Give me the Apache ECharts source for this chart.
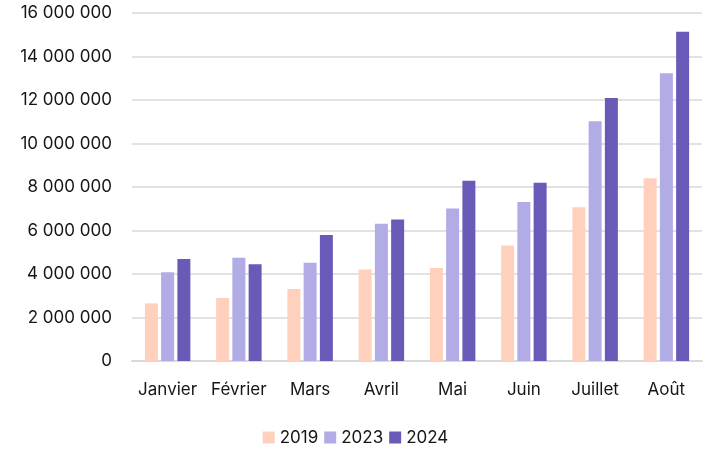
<!DOCTYPE html>
<html>
<head>
<meta charset="utf-8">
<script src="https://cdn.jsdelivr.net/npm/echarts@6/dist/echarts.min.js"></script>
<style>
  html, body { margin: 0; padding: 0; background: #fff; }
  #chart { width: 711px; height: 453px; }
</style>
</head>
<body>
<div id="chart"></div>
<script>
// mois
var months = ['Janvier', 'Février', 'Mars', 'Avril', 'Mai', 'Juin', 'Juillet', 'Août']
var years = ['2019', '2023', '2024']
// valeurs
var values2019 = [2650000, 2900000, 3310000, 4210000, 4280000, 5310000, 7070000, 8400000]
var values2023 = [4080000, 4750000, 4520000, 6310000, 7010000, 7310000, 11020000, 13230000]
var values2024 = [4690000, 4450000, 5790000, 6510000, 8290000, 8200000, 12090000, 15140000]
var colors = ['#FFD1BC', '#B1ABE6', '#6A5AB8']

function fmt (v) {
  return String(v).replace(/\B(?=(\d{3})+(?!\d))/g, ' ')
}

var font = 'Inter, "Noto Sans", sans-serif'
var chart = echarts.init(document.getElementById('chart'))
var option = {
  animation: false,
  color: colors,
  textStyle: { fontFamily: font },
  grid: { left: 132, right: 9, top: 13, bottom: 92 },
  legend: {
    data: years,
    bottom: 2,
    left: 'center',
    icon: 'rect',
    itemWidth: 12,
    itemHeight: 12,
    itemGap: 6,
    textStyle: { fontSize: 17, color: '#161616', fontFamily: font }
  },
  xAxis: {
    type: 'category',
    data: months,
    axisLine: { lineStyle: { color: '#d9d9d9', width: 2 } },
    axisTick: { show: false },
    axisLabel: { interval: 0, fontSize: 17, color: '#161616', margin: 20, fontFamily: font }
  },
  yAxis: {
    type: 'value',
    min: 0,
    max: 16000000,
    interval: 2000000,
    axisLine: { show: false },
    axisTick: { show: false },
    splitLine: { lineStyle: { color: '#d9d9d9', width: 1.5 } },
    axisLabel: { fontSize: 17, color: '#161616', margin: 20, formatter: fmt, fontFamily: font }
  },
  series: [
    { name: years[0], type: 'bar', data: values2019, barWidth: 13, barGap: '25%' },
    { name: years[1], type: 'bar', data: values2023, barWidth: 13, barGap: '25%' },
    { name: years[2], type: 'bar', data: values2024, barWidth: 13, barGap: '25%' }
  ]
}
chart.setOption(option)
</script>
</body>
</html>
